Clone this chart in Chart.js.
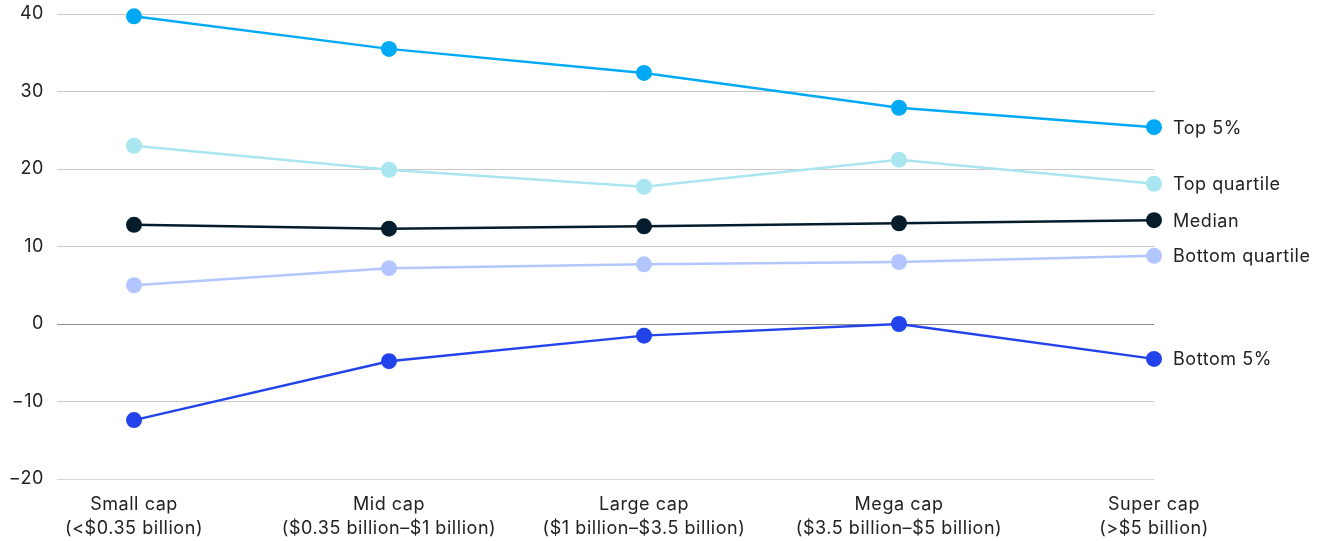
<!DOCTYPE html>
<html>
<head>
<meta charset="utf-8">
<script src="https://cdn.jsdelivr.net/npm/chart.js@4"></script>
<style>
html,body{margin:0;padding:0;background:#fff;}
#wrap{width:1326px;height:541px;position:relative;}
</style>
</head>
<body>
<div id="wrap"><canvas id="c" width="1326" height="541"></canvas></div>
<script>
const categories = [
  ["Small cap", "(<$0.35 billion)"],
  ["Mid cap", "($0.35 billion\u2013$1 billion)"],
  ["Large cap", "($1 billion\u2013$3.5 billion)"],
  ["Mega cap", "($3.5 billion\u2013$5 billion)"],
  ["Super cap", "(>$5 billion)"]
];
const seriesNames = ["Top 5%", "Top quartile", "Median", "Bottom quartile", "Bottom 5%"];
const top5 = [39.7, 35.5, 32.4, 27.9, 25.4];
const topQuartile = [23.0, 19.9, 17.7, 21.2, 18.1];
const median = [12.8, 12.3, 12.6, 13.0, 13.4];
const bottomQuartile = [5.0, 7.2, 7.7, 8.0, 8.8];
const bottom5 = [-12.4, -4.8, -1.5, 0.0, -4.5];
const yTicks = [-20, -10, 0, 10, 20, 30, 40];
const colors = ["#00a9f4", "#aae6f0", "#051c2c", "#b3c6ff", "#2243e9"];

const allSeries = [top5, topQuartile, median, bottomQuartile, bottom5];
const FONT = "Inter, 'Liberation Sans', Arial, sans-serif";

const datasets = allSeries.map((vals, i) => ({
  label: seriesNames[i],
  data: vals.map((v, j) => ({x: j, y: v})),
  borderColor: colors[i],
  backgroundColor: colors[i],
  pointBackgroundColor: colors[i],
  pointBorderColor: colors[i],
  borderWidth: 2.5,
  pointRadius: 8,
  pointBorderWidth: 0,
  pointHoverRadius: 8,
  tension: 0,
  clip: false
}));

const spacing = {
  id: 'spacing',
  beforeInit(chart) { chart.ctx.letterSpacing = "0.55px"; },
  beforeLayout(chart) { chart.ctx.letterSpacing = "0.55px"; },
  beforeDraw(chart) { chart.ctx.letterSpacing = "0.55px"; }
};

const endLabels = {
  id: 'endLabels',
  afterDatasetsDraw(chart) {
    const ctx = chart.ctx;
    ctx.save();
    ctx.letterSpacing = "0.55px";
    ctx.font = "18px " + FONT;
    ctx.fillStyle = "#222";
    ctx.textAlign = "left";
    ctx.textBaseline = "middle";
    chart.data.datasets.forEach((ds, i) => {
      const meta = chart.getDatasetMeta(i);
      const pt = meta.data[meta.data.length - 1];
      ctx.fillText(ds.label, pt.x + 19, pt.y + 1);
    });
    ctx.restore();
  }
};

new Chart(document.getElementById('c'), {
  type: 'line',
  data: { datasets },
  options: {
    responsive: false,
    animation: false,
    events: [],
    layout: { padding: { top: 14, right: 172, bottom: 0, left: 0 } },
    plugins: { legend: { display: false }, tooltip: { enabled: false } },
    scales: {
      x: {
        type: 'linear',
        min: -0.302,
        max: 4,
        afterBuildTicks(axis) { axis.ticks = categories.map((c, i) => ({value: i})); },
        afterFit(axis) { axis.height = 62; },
        grid: { display: false, drawTicks: false },
        border: { display: false },
        ticks: {
          autoSkip: false,
          maxRotation: 0,
          padding: 13,
          color: "#222",
          font: { family: FONT, size: 18, lineHeight: 1.35 },
          callback: (v) => categories[v] || ''
        }
      },
      y: {
        min: -20,
        max: 40,
        afterBuildTicks(axis) { axis.ticks = yTicks.map(v => ({value: v})); },
        afterFit(axis) { axis.width = 57; axis.paddingTop = 0; axis.paddingBottom = 0; },
        border: { display: false },
        grid: {
          drawTicks: false,
          color: (ctx) => ctx.tick && ctx.tick.value === 0 ? "#8a8a8a" : (ctx.tick && ctx.tick.value === -20 ? "#d6d6d6" : "#c8c8c8"),
          lineWidth: 1
        },
        ticks: {
          padding: 13,
          color: "#222",
          font: { family: FONT, size: 18 },
          callback: (v) => v < 0 ? "\u2212" + Math.abs(v) : String(v)
        }
      }
    }
  },
  plugins: [spacing, endLabels]
});
</script>
</body>
</html>
